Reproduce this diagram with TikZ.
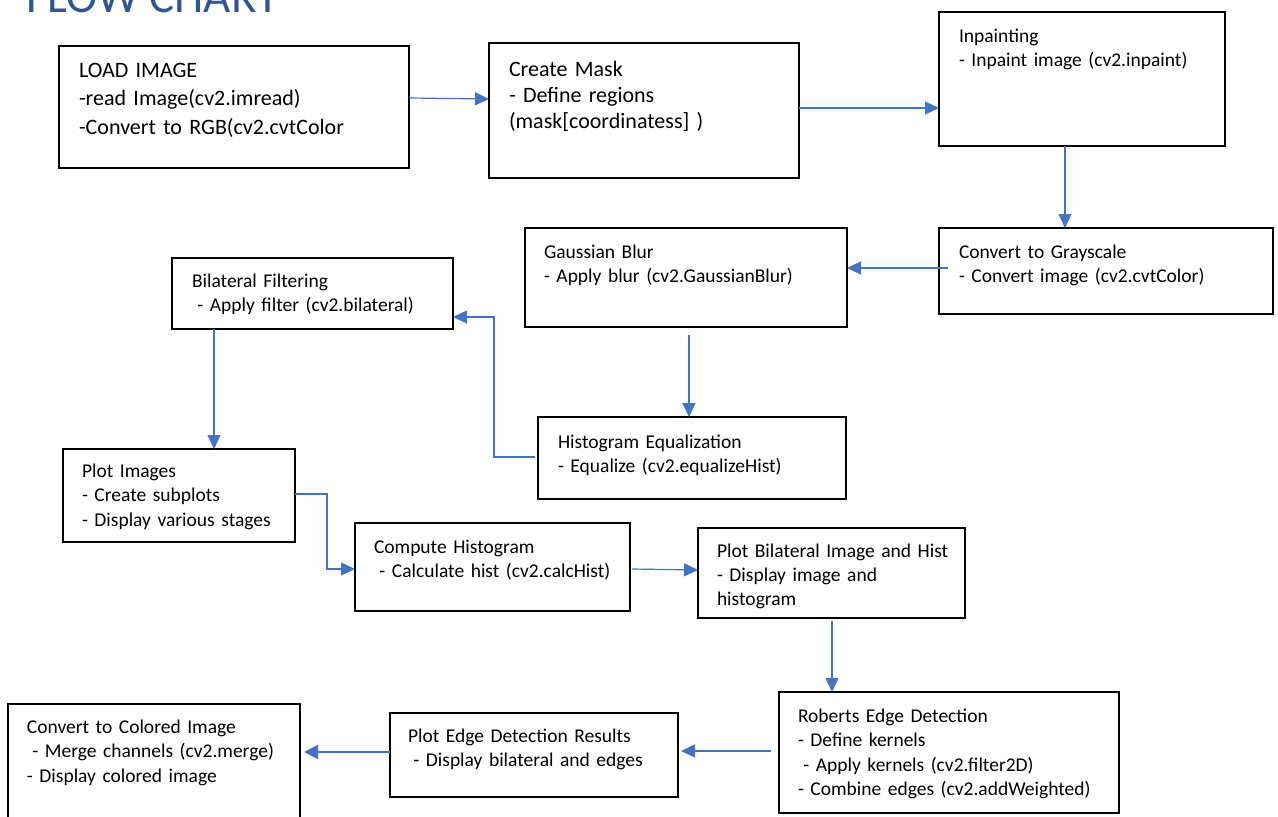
\documentclass[tikz,border=0pt]{standalone}
\usepackage{fontspec}
\setmainfont{Carlito}
\usetikzlibrary{arrows.meta,calc}
\definecolor{arrblue}{HTML}{4472C4}
\definecolor{titleblue}{HTML}{2F5597}
\tikzset{
  box/.style={draw=black, line width=1.1pt, inner sep=0pt, outer sep=0pt, anchor=north west, fill=none},
  txt/.style={anchor=base west, inner sep=0pt, outer sep=0pt, align=left, text width=#1},
  txt/.default=330pt,
  arr/.style={draw=arrblue, line width=1.2pt, -{Triangle[length=14pt,width=13pt]}},
  arrthick/.style={draw=arrblue, line width=2.2pt, -{Triangle[length=14pt,width=14pt]}},
  fs/.style={font=\fontsize{19.5pt}{24.5pt}\selectfont},
  fl/.style={font=\fontsize{22pt}{28.5pt}\selectfont}
}
\newcommand{\ls}{\hspace*{0.28em}}
\begin{document}
\begin{tikzpicture}[x=1pt,y=-1pt]
\useasboundingbox (0,0) rectangle (1278,817);
% title
\node[anchor=base west, inner sep=0pt, text=titleblue, font=\fontsize{47pt}{50pt}\selectfont] (title) at (26,12) {FLOW CHART};

% boxes
\node[box, minimum width=350pt, minimum height=122pt] (load) at (59,46) {};
\node[box, minimum width=310pt, minimum height=135pt] (mask) at (489,43) {};
\node[box, minimum width=286pt, minimum height=134pt] (inpaint) at (939,12) {};
\node[box, minimum width=334pt, minimum height=86pt] (gray) at (939,228) {};
\node[box, minimum width=322pt, minimum height=99pt] (gauss) at (525,228) {};
\node[box, minimum width=281pt, minimum height=71pt] (bilat) at (172,258) {};
\node[box, minimum width=308pt, minimum height=82pt] (histeq) at (538,417) {};
\node[box, minimum width=232pt, minimum height=93pt] (plotimg) at (63,449) {};
\node[box, minimum width=275pt, minimum height=88pt] (compute) at (355,523) {};
\node[box, minimum width=267pt, minimum height=90pt] (plotbil) at (698,528) {};
\node[box, minimum width=340pt, minimum height=121pt] (roberts) at (779,692) {};
\node[box, minimum width=288pt, minimum height=84pt] (plotedge) at (390,713) {};
\node[box, minimum width=292pt, minimum height=130pt] (colored) at (8,704) {};

% texts
\node[txt, fl] (load-t) at (79,77) {LOAD IMAGE\\-read Image(cv2.imread)\\-Convert to RGB(cv2.cvtColor};
\node[txt, fl, font=\fontsize{22pt}{26pt}\selectfont] (mask-t) at (509,76) {Create Mask\\- Define regions\\(mask[coordinatess] )};
\node[txt, fs] (inpaint-t) at (959,42) {Inpainting\\- Inpaint image (cv2.inpaint)};
\node[txt, fs] (gray-t) at (959,258) {Convert to Grayscale\\- Convert image (cv2.cvtColor)};
\node[txt, fs, font=\fontsize{19.5pt}{24pt}\selectfont] (gauss-t) at (544,258) {Gaussian Blur\\- Apply blur (cv2.GaussianBlur)};
\node[txt, fs] (bilat-t) at (192,287) {Bilateral Filtering\\\ls- Apply filter (cv2.bilateral)};
\node[txt, fs, font=\fontsize{19.5pt}{24pt}\selectfont] (histeq-t) at (558,448) {Histogram Equalization\\- Equalize (cv2.equalizeHist)};
\node[txt, fs] (plotimg-t) at (82,477) {Plot Images\\- Create subplots\\- Display various stages};
\node[txt, fs] (compute-t) at (374,553) {Compute Histogram\\\ls- Calculate hist (cv2.calcHist)};
\node[txt=240pt, fs, font=\fontsize{19.5pt}{24pt}\selectfont] (plotbil-t) at (717,557) {Plot Bilateral Image and Hist\\- Display image and\\histogram};
\node[txt, fs] (roberts-t) at (798,722) {Roberts Edge Detection\\- Define kernels\\\ls- Apply kernels (cv2.filter2D)\\- Combine edges (cv2.addWeighted)};
\node[txt, fs] (plotedge-t) at (408,742) {Plot Edge Detection Results\\\ls- Display bilateral and edges};
\node[txt, fs] (colored-t) at (27,733) {Convert to Colored Image\\\ls- Merge channels (cv2.merge)\\- Display colored image};

% connectors
\draw[arr] (load.east |- 0,98) -- (mask.west |- 0,99);
\draw[arr] (mask.east |- 0,108) -- (inpaint.west |- 0,108);
\draw[arr] (inpaint.south -| 1065,0) -- (gray.north -| 1065,0);
\draw[arr] ([xshift=9pt]gray.west |- 0,268) -- (gauss.east |- 0,268);
\draw[arr] ([yshift=-8pt]gauss.south -| 689,0) -- (histeq.north -| 689,0);
\draw[arr] ([xshift=-3pt]histeq.west |- 0,457) -| ([xshift=41pt]bilat.east |- 0,317) -- (bilat.east |- 0,317);
\draw[arr] (bilat.south -| 214,0) -- (plotimg.north -| 214,0);
\draw[arr] (plotimg.east |- 0,494) -| ([xshift=-28pt]compute.west |- 0,569) -- (compute.west |- 0,569);
\draw[arr] ([xshift=2pt]compute.east |- 0,569) -- (plotbil.west |- 0,570);
\draw[arr] ([yshift=-3pt]plotbil.south -| 832,0) -- (roberts.north -| 832,0);
\draw[arr] ([xshift=-8pt]roberts.west |- 0,751) -- ([xshift=3pt]plotedge.east |- 0,751);
\draw[arrthick] (plotedge.west |- 0,752) -- ([xshift=4pt]colored.east |- 0,752);
\end{tikzpicture}
\end{document}
